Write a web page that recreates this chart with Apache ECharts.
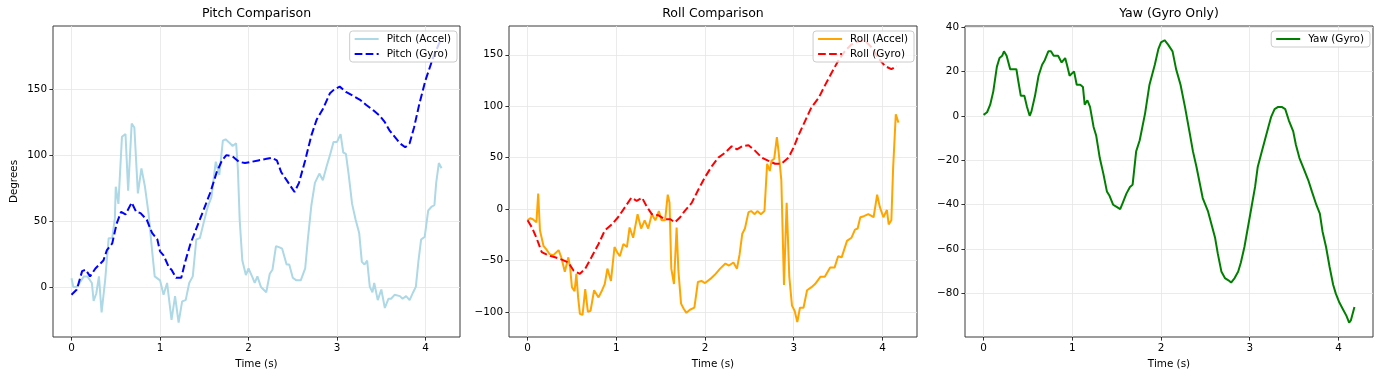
<!DOCTYPE html>
<html>
<head>
<meta charset="utf-8">
<script src="https://cdn.jsdelivr.net/npm/echarts@6/dist/echarts.min.js"></script>
<style>
html,body{margin:0;padding:0;background:#fff;}
#chart{width:1388px;height:382px;}
</style>
</head>
<body>
<div id="chart"></div>
<script>
// ---- Data (time in s, value in degrees) ----
const pitchAccel = [[0,6.6],[0.02,0],[0.06,0],[0.14,8],[0.18,8],[0.23,3],[0.25,-10.6],[0.28,-5],[0.31,8],[0.34,-19.4],[0.38,5],[0.42,37],[0.46,37],[0.49,52],[0.5,76],[0.53,63],[0.57,114],[0.61,116],[0.64,73],[0.68,124],[0.71,121],[0.75,71],[0.79,90],[0.83,76],[0.87,56],[0.91,28],[0.94,8],[1.0,5],[1.04,-6],[1.08,3],[1.13,-25],[1.17,-7],[1.21,-27],[1.25,-11],[1.29,-10],[1.33,3],[1.37,8],[1.41,36],[1.45,37],[1.49,48],[1.54,61],[1.58,68],[1.63,95],[1.67,85],[1.71,111],[1.74,112],[1.79,109],[1.82,107],[1.86,109],[1.88,89],[1.9,51],[1.93,20],[1.97,9],[2.0,14],[2.04,8],[2.07,3],[2.1,8],[2.14,0],[2.2,-4],[2.24,10],[2.27,13],[2.31,31],[2.35,30],[2.38,29],[2.43,17],[2.46,17],[2.5,7],[2.54,5],[2.59,5],[2.64,14],[2.67,36],[2.71,62],[2.75,79],[2.8,86],[2.84,81],[2.88,91],[2.92,100],[2.96,110],[3.0,110],[3.04,116],[3.07,102],[3.1,101],[3.13,86],[3.17,63],[3.21,51],[3.25,41],[3.28,19],[3.31,17],[3.34,20],[3.37,0],[3.4,-4],[3.42,3],[3.46,-10],[3.5,-2],[3.54,-16],[3.58,-9],[3.61,-9],[3.65,-6],[3.71,-7],[3.74,-9],[3.78,-7],[3.82,-10],[3.86,-4],[3.89,0],[3.92,20],[3.95,36],[3.99,38],[4.03,58],[4.07,61],[4.1,62],[4.12,79],[4.15,94],[4.18,90]];
const pitchGyro = [[0,-6],[0.06,-2],[0.12,12],[0.16,13],[0.21,8],[0.27,14],[0.33,18],[0.36,20],[0.4,28],[0.46,33],[0.51,48],[0.56,57],[0.61,55],[0.68,64],[0.73,57],[0.78,56],[0.85,51],[0.91,41],[0.97,36],[1.0,27],[1.04,24],[1.1,15],[1.13,13],[1.18,7],[1.24,7],[1.28,18],[1.34,32],[1.42,46],[1.49,58],[1.57,72],[1.64,87],[1.7,96],[1.75,100],[1.82,99],[1.89,95],[1.96,94],[2.04,95],[2.11,96],[2.19,97],[2.26,98],[2.32,96],[2.37,87],[2.43,81],[2.49,75],[2.52,72],[2.57,79],[2.64,96],[2.71,115],[2.77,127],[2.84,135],[2.92,147],[2.97,150],[3.03,152],[3.1,148],[3.18,145],[3.26,142],[3.33,138],[3.41,134],[3.48,130],[3.54,125],[3.59,119],[3.65,114],[3.71,109],[3.77,106],[3.82,109],[3.87,121],[3.93,139],[4.0,157],[4.08,173],[4.16,186]];
const rollAccel = [[0,-11],[0.03,-9],[0.06,-10],[0.1,-13],[0.12,15],[0.14,-21],[0.18,-36],[0.21,-39],[0.25,-44],[0.29,-45],[0.35,-40],[0.38,-47],[0.42,-61],[0.46,-47],[0.48,-57],[0.5,-76],[0.53,-80],[0.55,-63],[0.57,-86],[0.59,-102],[0.62,-103],[0.65,-78],[0.68,-100],[0.71,-99],[0.75,-79],[0.8,-86],[0.84,-79],[0.87,-73],[0.9,-58],[0.94,-70],[0.98,-37],[1.01,-42],[1.04,-46],[1.08,-34],[1.12,-37],[1.15,-18],[1.19,-28],[1.24,-5],[1.28,-19],[1.32,-11],[1.36,-19],[1.4,-5],[1.44,-11],[1.48,-2],[1.51,-11],[1.55,-11],[1.58,14],[1.6,6],[1.62,-58],[1.65,-73],[1.68,-18],[1.7,-60],[1.73,-92],[1.76,-97],[1.79,-101],[1.83,-98],[1.88,-96],[1.92,-71],[1.96,-70],[2.0,-72],[2.06,-68],[2.11,-64],[2.17,-58],[2.23,-53],[2.27,-55],[2.32,-52],[2.36,-58],[2.39,-44],[2.42,-24],[2.45,-19],[2.49,-3],[2.52,-2],[2.56,-5],[2.59,-2],[2.63,-5],[2.67,-2],[2.7,44],[2.73,37],[2.75,47],[2.78,49],[2.81,70],[2.83,55],[2.86,28],[2.89,-74],[2.92,6],[2.95,-66],[2.98,-94],[3.01,-99],[3.04,-110],[3.07,-96],[3.11,-96],[3.15,-79],[3.2,-76],[3.24,-73],[3.3,-66],[3.35,-66],[3.41,-57],[3.46,-57],[3.5,-46],[3.54,-47],[3.6,-31],[3.65,-28],[3.69,-20],[3.72,-19],[3.75,-8],[3.79,-7],[3.84,-5],[3.9,-8],[3.94,14],[3.97,2],[4.01,-8],[4.05,-1],[4.07,-15],[4.1,-11],[4.12,40],[4.15,92],[4.18,84]];
const rollGyro = [[0,-11],[0.05,-18],[0.1,-28],[0.16,-42],[0.23,-45],[0.31,-47],[0.38,-49],[0.46,-52],[0.52,-60],[0.59,-63],[0.65,-58],[0.72,-47],[0.8,-34],[0.87,-21],[0.95,-15],[1.02,-8],[1.1,2],[1.17,11],[1.23,8],[1.29,11],[1.34,3],[1.4,-5],[1.47,-6],[1.55,-10],[1.61,-10],[1.66,-13],[1.72,-8],[1.77,-2],[1.85,6],[1.92,18],[2.0,31],[2.08,42],[2.15,50],[2.23,55],[2.3,61],[2.36,58],[2.42,61],[2.49,62],[2.56,57],[2.64,50],[2.71,47],[2.79,44],[2.86,44],[2.94,50],[3.0,60],[3.05,71],[3.13,86],[3.2,99],[3.28,108],[3.35,120],[3.43,133],[3.5,144],[3.58,154],[3.65,160],[3.73,163],[3.8,164],[3.88,157],[3.95,147],[4.03,139],[4.1,136],[4.16,139]];
const yawGyro = [[0,0.4],[0.04,1.6],[0.075,5],[0.11,11],[0.15,22],[0.18,26],[0.21,27],[0.23,29],[0.26,27],[0.3,21],[0.34,21],[0.37,21],[0.39,16],[0.42,9],[0.46,9],[0.49,4],[0.52,0],[0.54,2],[0.58,9],[0.62,18],[0.66,23],[0.69,25],[0.73,29],[0.76,29],[0.79,27],[0.84,27],[0.88,24],[0.92,26],[0.94,23],[0.97,18],[1.02,20],[1.05,14],[1.09,14],[1.12,13],[1.14,5],[1.17,7],[1.2,4],[1.24,-5],[1.27,-9],[1.31,-19],[1.35,-26],[1.39,-34],[1.42,-36],[1.46,-40],[1.5,-41],[1.54,-42],[1.57,-39],[1.61,-35],[1.65,-32],[1.68,-31],[1.72,-16],[1.76,-11],[1.82,1],[1.87,14],[1.93,23],[1.97,30],[2.0,33],[2.04,34],[2.08,32],[2.13,29],[2.17,21],[2.22,14],[2.27,4],[2.32,-7],[2.36,-16],[2.4,-23],[2.44,-31],[2.47,-37],[2.53,-43],[2.57,-49],[2.61,-55],[2.64,-62],[2.68,-70],[2.72,-73],[2.76,-74],[2.79,-75],[2.83,-73],[2.87,-70],[2.9,-66],[2.94,-59],[2.98,-50],[3.02,-41],[3.06,-32],[3.09,-23],[3.13,-17],[3.17,-11],[3.21,-5],[3.24,-0.6],[3.28,3],[3.32,4],[3.36,4],[3.4,3],[3.44,-2],[3.49,-7],[3.52,-13],[3.56,-19],[3.61,-24],[3.66,-29],[3.7,-34],[3.75,-40],[3.79,-44],[3.82,-52],[3.86,-59],[3.9,-68],[3.94,-76],[3.97,-80],[4.01,-84],[4.05,-87],[4.09,-90],[4.12,-93],[4.14,-92],[4.18,-86]];

const xTicks = [0, 1, 2, 3, 4];
const pitchTicks = [0, 50, 100, 150];
const rollTicks = [-100, -50, 0, 50, 100, 150];
const yawTicks = [-80, -60, -40, -20, 0, 20, 40];
const titles = ['Pitch Comparison', 'Roll Comparison', 'Yaw (Gyro Only)'];

// ---- Layout ----
const FONT = 'DejaVu Sans';
const grids = [
  {left: 53, top: 26, width: 407, height: 311},
  {left: 509, top: 26, width: 408, height: 311},
  {left: 965, top: 26, width: 408, height: 311}
];
const yRanges = [[-38, 198], [-124.5, 178], [-99.5, 40.4]];
const yTickSets = [pitchTicks, rollTicks, yawTicks];
const DASH = [7.7, 3.3];
const fmt = v => String(v).replace('-', '\u2212');

const chart = echarts.init(document.getElementById('chart'), null, {renderer: 'canvas'});

const xAxes = grids.map((g, i) => ({
  type: 'value', gridIndex: i, min: -0.209, max: 4.389, position: 'bottom',
  name: 'Time (s)', nameLocation: 'middle', nameGap: 22,
  nameTextStyle: {fontFamily: FONT, fontSize: 10.4, color: '#000'},
  axisLine: {show: false, onZero: false},
  axisTick: {show: true, length: 3.6, customValues: xTicks, lineStyle: {color: '#000', width: 0.8}},
  axisLabel: {customValues: xTicks, formatter: fmt, margin: 6, fontFamily: FONT, fontSize: 10.4, color: '#000'},
  splitLine: {show: true, lineStyle: {color: '#e6e6e6', width: 0.8}}
}));
const yAxes = grids.map((g, i) => ({
  type: 'value', gridIndex: i, min: yRanges[i][0], max: yRanges[i][1], position: 'left',
  name: i === 0 ? 'Degrees' : '', nameLocation: 'middle', nameGap: 34,
  nameTextStyle: {fontFamily: FONT, fontSize: 10.4, color: '#000'},
  axisLine: {show: false, onZero: false},
  axisTick: {show: true, length: 3.6, customValues: yTickSets[i], lineStyle: {color: '#000', width: 0.8}},
  axisLabel: {customValues: yTickSets[i], formatter: fmt, margin: 6, fontFamily: FONT, fontSize: 10.4, color: '#000'},
  splitLine: {show: true, lineStyle: {color: '#e6e6e6', width: 0.8}}
}));

function lineSeries(name, data, idx, color, dashed) {
  return {
    name, type: 'line', data, xAxisIndex: idx, yAxisIndex: idx,
    symbol: 'none', showSymbol: false, smooth: false,
    lineStyle: {color, width: 2, type: dashed ? DASH : 'solid'},
    itemStyle: {color},
    emphasis: {disabled: true}, animation: false
  };
}

const legendCommon = {
  orient: 'vertical', top: 31, itemWidth: 24, itemHeight: 12, itemGap: 5,
  padding: [3, 6, 3, 4], backgroundColor: 'rgba(255,255,255,0.8)',
  borderColor: '#cccccc', borderWidth: 1, borderRadius: 3,
  textStyle: {fontFamily: FONT, fontSize: 10.4, color: '#000', padding: [0, 0, 0, 3]},
  itemStyle: {opacity: 0}, selectedMode: false
};

const option = {
  animation: false,
  backgroundColor: '#fff',
  grid: grids.map(g => Object.assign({show: true, borderColor: '#3a3a3a', borderWidth: 1, backgroundColor: 'transparent'}, g)),
  xAxis: xAxes,
  yAxis: yAxes,
  legend: [
    Object.assign({}, legendCommon, {right: 1388 - 457, data: ['Pitch (Accel)', 'Pitch (Gyro)']}),
    Object.assign({}, legendCommon, {right: 1388 - 914, data: ['Roll (Accel)', 'Roll (Gyro)']}),
    Object.assign({}, legendCommon, {right: 1388 - 1370, data: ['Yaw (Gyro)']})
  ],
  graphic: titles.map((t, i) => ({
    type: 'text', x: grids[i].left + grids[i].width / 2, y: 14,
    style: {text: t, font: '12.5px "DejaVu Sans"', fill: '#000', textAlign: 'center', textVerticalAlign: 'middle'}
  })),
  series: [
    lineSeries('Pitch (Accel)', pitchAccel, 0, '#ADD8E6', false),
    lineSeries('Pitch (Gyro)', pitchGyro, 0, '#0000FF', true),
    lineSeries('Roll (Accel)', rollAccel, 1, '#FFA500', false),
    lineSeries('Roll (Gyro)', rollGyro, 1, '#FF0000', true),
    lineSeries('Yaw (Gyro)', yawGyro, 2, '#008000', false)
  ]
};
chart.setOption(option);
</script>
</body>
</html>
